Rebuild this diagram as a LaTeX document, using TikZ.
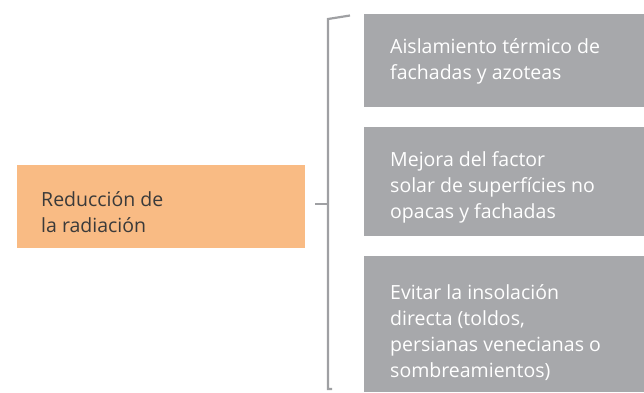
\documentclass[tikz,border=0pt]{standalone}
\usepackage{fontspec}
\setmainfont{Open Sans}
\definecolor{orangebox}{HTML}{F9BB84}
\definecolor{graybox}{HTML}{A7A8AB}
\definecolor{bracketcol}{HTML}{9FA0A3}
\definecolor{darktext}{HTML}{3A3A3A}
\begin{document}
\begin{tikzpicture}[x=1pt,y=-1pt,
  itemtext/.style={anchor=base west,inner sep=0pt,align=left,text=white,font=\fontsize{19.5}{26}\selectfont},
  maintext/.style={anchor=base west,inner sep=0pt,align=left,text=darktext,font=\fontsize{19.5}{26}\selectfont},
  bracketline/.style={draw=bracketcol,line width=2.2pt}]
\useasboundingbox (0,0) rectangle (644,392);
\fill[orangebox] (17,165) rectangle (305,248);
\node[maintext] (main) at (41,232) {Reducción de\\la radiación};
\fill[graybox] (364,14) rectangle (644,107);
\node[itemtext] (t1) at (390,79) {Aislamiento térmico de\\fachadas y azoteas};
\fill[graybox] (364,127) rectangle (644,236);
\node[itemtext] (t2) at (390,218) {Mejora del factor\\solar de superfícies no\\opacas y fachadas};
\fill[graybox] (364,256) rectangle (644,392);
\node[itemtext] (t3) at (390,377) {Evitar la insolación\\directa (toldos,\\persianas venecianas o\\sombreamientos)};
\coordinate (bt) at (328,19);
\coordinate (btr) at (350,15.5);
\coordinate (bb) at (328,389);
\coordinate (bbr) at (332,389);
\coordinate (mt1) at (315,204);
\coordinate (mt2) at (328,204);
\draw[bracketline] (btr) -- (bt) -- (bb) -- (bbr);
\draw[bracketline] (mt1) -- (mt2);
\end{tikzpicture}
\end{document}
